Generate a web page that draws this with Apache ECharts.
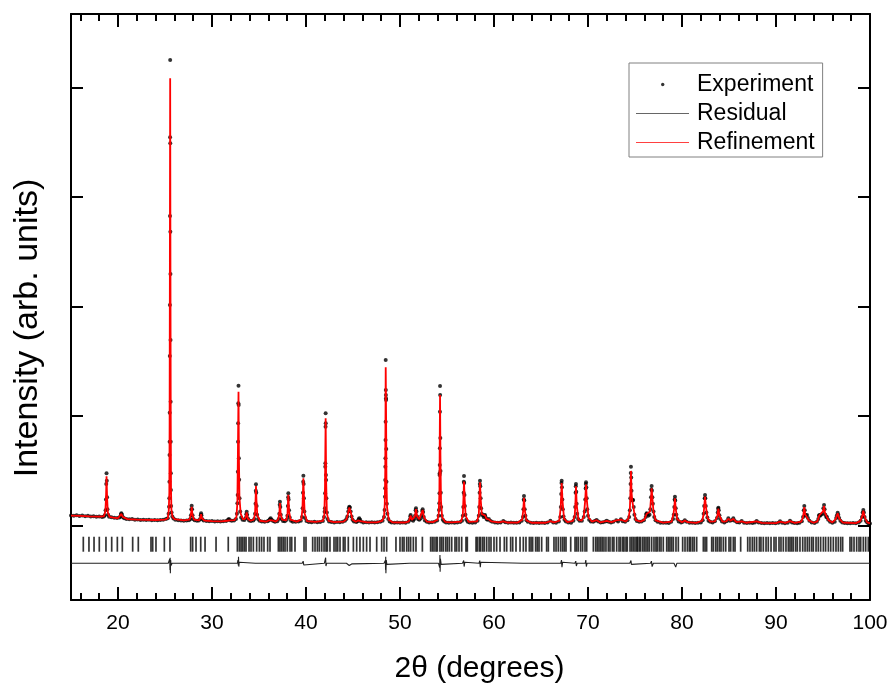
<!DOCTYPE html>
<html>
<head>
<meta charset="utf-8">
<script src="https://cdn.jsdelivr.net/npm/echarts@6/dist/echarts.min.js"></script>
<style>
html,body{margin:0;padding:0;background:#fff;}
#chart{width:891px;height:689px;}
</style>
</head>
<body>
<div id="chart"></div>
<script>
// ---------- DATA ----------
const xTickLabels = [20, 30, 40, 50, 60, 70, 80, 90, 100];
const xMinorTicks = [16, 18, 22, 24, 26, 28, 32, 34, 36, 38, 42, 44, 46, 48, 52, 54, 56, 58, 62, 64, 66, 68, 72, 74, 76, 78, 82, 84, 86, 88, 92, 94, 96, 98];
const yTicks = [0, 1000, 2000, 3000, 4000];

// Experiment: [2theta, intensity]
const experimentPoints = [
[15.0,94],[15.3,90],[15.6,96],[15.9,88],[16.2,92],[16.5,86],[16.8,90],[17.1,84],[17.4,87],[17.7,82],[18.0,85],[18.3,80],
[18.5,84],[18.6,96],[18.68,140],[18.72,239],[18.75,380],[18.78,478],[18.81,410],[18.84,260],[18.88,150],[18.95,100],[19.05,82],
[19.3,76],[19.6,72],[19.9,70],[20.15,74],
[20.25,85],[20.32,105],[20.36,113],[20.42,100],[20.5,80],[20.65,68],
[20.9,62],[21.2,58],[21.5,60],[21.8,55],[22.1,57],[22.4,53],[22.7,55],[23.0,51],[23.3,54],[23.6,50],[23.9,53],[24.2,50],[24.5,52],[24.8,55],[25.1,60],
[25.3,68],[25.38,110],[25.43,173],[25.46,250],[25.47,401],[25.48,644],[25.49,766],[25.5,1031],[25.51,1549],[25.52,2014],[25.53,2826],[25.54,3544],[25.55,4249],[25.56,3489],[25.57,2682],[25.58,2297],[25.59,1695],[25.6,1131],[25.61,766],[25.62,478],[25.63,325],[25.65,180],[25.7,120],[25.78,85],[25.9,65],
[26.1,55],[26.4,50],[26.7,48],[27.0,46],[27.3,48],[27.55,50],
[27.7,62],[27.76,95],[27.8,150],[27.84,183],[27.88,150],[27.93,95],[28.0,62],[28.15,50],
[28.4,44],[28.6,48],
[28.74,60],[28.8,95],[28.84,113],[28.88,95],[28.95,62],[29.1,48],
[29.4,42],[29.7,40],[30.0,42],[30.3,38],[30.6,41],[30.9,38],[31.2,40],[31.5,42],
[31.7,55],[31.8,60],[31.9,50],[32.1,45],[32.35,48],[32.55,60],
[32.65,110],[32.7,204],[32.73,280],[32.75,493],[32.77,766],[32.78,934],[32.8,1117],[32.82,1277],[32.84,1101],[32.86,615],[32.89,420],[32.93,250],[33.0,130],[33.1,75],[33.25,55],
[33.45,52],
[33.58,70],[33.64,105],[33.69,128],[33.74,100],[33.82,65],[33.95,48],
[34.15,42],[34.4,48],
[34.5,60],[34.58,110],[34.63,200],[34.66,320],[34.68,378],[34.71,300],[34.75,180],[34.8,100],[34.9,60],[35.05,45],
[35.3,38],[35.6,36],[35.9,40],[36.05,48],
[36.15,58],[36.24,67],[36.35,55],[36.5,42],
[36.7,36],[36.95,40],
[37.1,60],[37.16,110],[37.2,190],[37.23,219],[37.27,170],[37.32,100],[37.4,60],[37.55,42],
[37.75,40],[37.95,55],
[38.02,90],[38.07,180],[38.1,260],[38.12,295],[38.15,240],[38.2,140],[38.27,75],[38.4,45],
[38.6,36],[38.9,35],[39.2,38],[39.45,45],
[39.58,80],[39.64,160],[39.68,300],[39.7,400],[39.72,456],[39.75,380],[39.78,250],[39.83,130],[39.9,70],[40.05,42],
[40.3,34],[40.6,32],[40.9,35],[41.2,32],[41.5,34],[41.8,42],
[41.92,80],[41.98,128],[42.01,159],[42.03,296],[42.05,538],[42.06,569],[42.08,903],[42.09,1025],[42.1,934],[42.12,462],[42.14,417],[42.17,250],[42.22,120],[42.3,60],[42.45,38],
[42.7,33],[43.0,30],[43.3,33],[43.6,31],[43.9,35],[44.15,45],
[44.3,60],[44.4,85],[44.5,130],[44.56,160],[44.61,173],[44.67,165],[44.75,130],[44.85,85],[44.95,55],[45.1,38],
[45.35,33],[45.5,40],
[45.6,58],[45.67,67],[45.75,55],[45.85,38],
[46.1,30],[46.4,32],[46.7,29],[47.0,31],[47.3,30],[47.6,32],[47.9,35],[48.15,45],
[48.3,80],[48.36,143],[48.4,265],[48.42,341],[48.43,417],[48.44,538],[48.45,615],[48.46,782],[48.47,949],[48.48,1512],[48.49,1238],[48.5,1193],[48.51,1162],[48.52,1147],[48.54,700],[48.56,400],[48.6,200],[48.66,110],[48.75,60],[48.9,38],
[49.1,30],[49.4,28],[49.7,30],[50.0,27],[50.3,30],[50.6,28],[50.9,35],
[51.03,55],[51.09,85],[51.13,98],[51.18,80],[51.25,55],
[51.4,45],[51.52,60],
[51.6,90],[51.66,140],[51.7,159],[51.75,130],[51.82,85],[51.92,60],[52.05,55],
[52.2,65],
[52.3,95],[52.36,135],[52.41,150],[52.46,125],[52.53,80],[52.65,48],
[52.85,35],[53.1,30],[53.4,32],[53.7,35],[53.95,48],
[54.1,90],[54.15,143],[54.18,204],[54.2,296],[54.21,463],[54.22,478],[54.23,554],[54.24,706],[54.25,1040],[54.26,1275],[54.27,1193],[54.29,800],[54.31,500],[54.34,300],[54.38,170],[54.45,90],[54.55,55],[54.7,38],
[54.9,30],[55.2,28],[55.5,30],[55.8,27],[56.1,30],[56.4,33],[56.6,45],
[56.68,90],[56.73,170],[56.77,300],[56.79,402],[56.81,453],[56.83,390],[56.86,280],[56.9,180],[56.96,100],[57.05,55],[57.2,35],
[57.4,30],[57.7,28],[58.0,30],[58.25,45],
[58.38,90],[58.43,170],[58.47,300],[58.49,380],[58.51,411],[58.54,360],[58.58,250],[58.63,160],[58.7,110],
[58.8,95],[58.9,80],[58.98,92],[59.04,98],[59.1,80],[59.2,60],
[59.3,55],[59.45,60],[59.6,45],[59.8,35],[60.1,30],[60.4,28],[60.7,30],[60.99,43],[61.2,32],[61.5,27],[61.8,29],[62.1,26],[62.4,28],[62.7,30],[62.95,45],
[63.08,80],[63.13,150],[63.17,240],[63.19,271],[63.22,230],[63.27,150],[63.34,90],[63.45,50],[63.6,35],
[63.9,27],[64.2,25],[64.5,28],[64.8,25],[65.1,27],[65.4,25],[65.7,30],[66.0,45],[66.3,30],[66.6,28],[66.9,38],
[67.05,80],[67.11,170],[67.15,290],[67.18,390],[67.2,411],[67.23,350],[67.27,240],[67.32,150],[67.4,85],[67.5,55],[67.65,38],
[67.9,30],[68.2,28],[68.45,45],
[68.58,80],[68.64,170],[68.68,300],[68.7,360],[68.72,380],[68.75,310],[68.79,200],[68.85,110],[68.95,60],[69.1,45],
[69.35,45],[69.55,80],
[69.65,130],[69.71,240],[69.75,340],[69.77,380],[69.79,396],[69.82,350],[69.86,250],[69.92,150],[70.0,90],[70.12,55],[70.3,38],
[70.55,35],[70.75,45],[70.92,52],[71.1,38],[71.35,30],[71.6,32],[71.85,38],[72.0,45],[72.2,35],[72.45,30],[72.7,35],[73.0,50],[73.2,38],[73.5,58],[73.7,40],[73.95,35],[74.2,50],
[74.38,80],[74.45,140],[74.5,250],[74.53,380],[74.55,480],[74.57,538],[74.6,440],[74.63,320],[74.68,240],
[74.74,230],[74.8,234],[74.86,170],[74.94,100],[75.05,60],[75.2,42],
[75.45,35],[75.7,38],[75.95,50],
[76.14,80],[76.2,105],[76.24,113],[76.3,105],[76.4,90],
[76.55,100],[76.63,150],[76.7,260],[76.74,330],[76.77,362],[76.8,320],[76.85,260],[76.9,200],[76.97,130],[77.05,80],[77.18,50],
[77.4,35],[77.7,28],[78.0,26],[78.3,28],[78.6,25],[78.85,35],[79.05,60],
[79.12,100],[79.18,170],[79.22,240],[79.25,265],[79.28,230],[79.33,160],[79.4,100],[79.5,60],[79.65,38],
[79.9,30],[80.1,35],[80.3,50],[80.5,35],[80.8,26],[81.1,28],[81.4,24],[81.7,26],[82.0,30],[82.2,50],
[82.3,110],[82.36,180],[82.41,250],[82.45,280],[82.48,250],[82.53,180],[82.6,120],[82.7,75],[82.82,45],
[83.0,35],[83.25,30],[83.5,40],
[83.72,70],[83.8,120],[83.85,155],[83.87,164],[83.91,140],[83.98,95],[84.08,60],[84.25,38],
[84.5,30],[84.75,40],[84.93,67],[85.1,45],[85.3,50],[85.46,67],[85.6,45],[85.85,32],[86.1,30],[86.35,43],[86.6,28],[86.9,25],[87.2,26],[87.5,24],[87.75,30],[87.94,43],[88.15,30],[88.45,24],[88.75,23],[89.05,25],[89.35,22],[89.65,24],[89.95,22],[90.25,28],[90.43,40],[90.65,26],[90.95,23],[91.25,28],[91.49,45],[91.7,30],[91.95,25],[92.25,22],[92.5,26],[92.75,40],
[92.88,80],[92.95,140],[93.01,180],[93.06,140],[93.12,100],
[93.2,90],[93.3,98],[93.4,70],[93.55,45],[93.8,30],[94.1,25],[94.35,35],
[94.5,60],[94.57,90],[94.61,98],[94.68,90],[94.78,100],
[94.95,110],[95.04,160],[95.11,189],[95.17,150],[95.25,100],[95.35,80],[95.42,80],[95.55,55],[95.75,35],
[96.0,28],[96.25,35],[96.4,70],
[96.48,95],[96.56,119],[96.63,100],[96.72,70],[96.85,45],
[97.05,30],[97.3,25],[97.6,23],[97.9,22],[98.2,24],[98.5,22],[98.8,30],[99.0,45],
[99.15,80],[99.22,120],[99.29,143],[99.35,120],[99.43,80],[99.55,45],[99.7,30],[99.85,22],[100,20]
];

// Refinement (calculated profile): [2theta, intensity]
const refinementPoints = [
[15,92],[16,89],[17,85],[18,82],[18.5,86],[18.65,130],[18.72,240],[18.78,452],[18.84,255],[18.92,120],[19.1,80],[19.5,73],[20.0,68],[20.2,75],[20.36,108],[20.5,80],[20.7,66],[21,60],[22,55],[23,53],[24,52],[25,56],
[25.3,66],[25.4,140],[25.46,300],[25.49,900],[25.52,2400],[25.55,4082],[25.58,2300],[25.61,1000],[25.64,330],[25.68,150],[25.8,80],[26,60],[27,49],
[27.6,55],[27.76,100],[27.84,172],[27.92,100],[28.1,55],[28.6,48],[28.76,70],[28.84,106],[28.93,68],[29.2,46],[30,41],[31,40],[31.6,45],[31.78,58],[31.95,48],[32.4,50],
[32.6,80],[32.7,210],[32.76,700],[32.82,1222],[32.86,650],[32.92,260],[33.05,110],[33.3,58],[33.55,65],[33.69,122],[33.82,64],[34.1,45],
[34.45,55],[34.58,115],[34.64,250],[34.68,362],[34.73,230],[34.82,95],[35.1,45],[35.8,38],[36.1,50],[36.24,64],[36.4,48],[36.8,38],
[37.05,55],[37.17,120],[37.23,207],[37.3,115],[37.45,55],[37.9,48],[38.03,110],[38.12,282],[38.2,130],[38.35,55],[39,37],
[39.5,55],[39.62,150],[39.68,320],[39.72,432],[39.77,290],[39.86,110],[40.1,42],[41,34],[41.8,44],
[41.95,100],[42.02,350],[42.09,980],[42.14,420],[42.22,115],[42.4,45],[43,33],[44,38],
[44.3,58],[44.45,105],[44.61,166],[44.77,120],[44.95,55],[45.3,36],[45.55,48],[45.67,63],[45.8,42],[46.5,31],[47.5,31],[48.1,45],
[48.3,80],[48.38,200],[48.43,500],[48.48,1445],[48.52,1000],[48.56,420],[48.62,170],[48.8,55],[49.2,31],[50.5,29],
[50.95,40],[51.13,93],[51.27,52],[51.45,50],[51.58,85],[51.7,152],[51.82,85],[52.05,58],[52.25,75],[52.41,143],[52.55,78],[52.85,37],[53.5,33],
[54.0,55],[54.12,110],[54.19,300],[54.26,1193],[54.3,650],[54.36,230],[54.48,80],[54.8,35],[55.5,30],
[56.5,38],[56.68,95],[56.75,250],[56.81,402],[56.88,240],[56.98,90],[57.3,34],
[58.2,40],[58.38,95],[58.46,280],[58.51,395],[58.58,245],[58.7,105],[58.85,88],[59.04,95],[59.2,62],[59.45,58],[59.7,40],[60.5,30],[61.0,40],[61.4,29],[62.5,28],
[63.0,55],[63.12,150],[63.19,255],[63.27,145],[63.45,48],[64,27],[65.5,27],[66,42],[66.4,30],
[66.95,45],[67.1,170],[67.2,390],[67.28,235],[67.45,65],[67.8,32],[68.4,45],[68.58,85],[68.65,180],[68.72,360],[68.8,190],[68.98,55],[69.3,45],
[69.55,80],[69.7,230],[69.79,375],[69.87,240],[70.05,75],[70.4,38],[70.92,50],[71.3,31],[72.0,43],[72.5,32],[73.0,48],[73.5,55],[74.0,38],
[74.3,65],[74.45,140],[74.52,330],[74.57,500],[74.63,310],[74.7,230],[74.8,228],[74.9,130],[75.1,50],[75.6,37],[76.0,55],[76.24,108],[76.45,90],
[76.6,130],[76.7,250],[76.77,340],[76.85,250],[76.97,125],[77.2,48],[78,28],[78.9,38],[79.1,110],[79.18,165],[79.25,250],[79.33,155],[79.5,58],
[80.0,32],[80.3,48],[80.6,32],[81.5,26],[82.15,45],[82.3,105],[82.45,265],[82.54,175],[82.72,70],[83.0,37],[83.5,40],[83.75,85],[83.87,155],[83.98,92],[84.3,38],
[84.7,40],[84.93,63],[85.2,46],[85.46,63],[85.8,33],[86.35,40],[86.8,27],[87.94,40],[88.5,25],[90.0,23],[90.43,37],[91.0,25],[91.49,42],[92.0,26],
[92.7,38],[92.88,78],[93.01,170],[93.1,105],[93.3,94],[93.5,48],[94.0,27],[94.4,40],[94.61,94],[94.72,92],[94.8,98],[95.0,130],[95.11,180],[95.2,120],[95.4,80],[95.6,50],
[96.0,30],[96.35,60],[96.56,113],[96.75,62],[97.1,29],[98.5,23],[98.95,42],[99.15,80],[99.29,136],[99.45,75],[99.7,30],[100,21]
];

// Residual (observed - calculated): [2theta, difference]
const residualPoints = [
[15,0],[18.65,0],[18.72,-8],[18.78,12],[18.84,-15],[18.9,0],[20.3,0],[20.36,-5],[20.45,0],
[25.35,0],[25.45,-10],[25.5,40],[25.53,-60],[25.55,50],[25.57,-90],[25.6,30],[25.65,-20],[25.75,0],
[27.75,0],[27.82,-15],[27.9,0],[31.7,0],[31.8,4],[31.9,0],
[32.7,0],[32.76,30],[32.8,-20],[32.82,60],[32.85,-30],[32.9,10],[33.0,0],
[34.6,0],[34.66,-15],[34.7,12],[34.78,0],[37.1,0],[37.2,-8],[37.3,0],[38.0,0],[38.1,10],[38.15,-10],[38.25,0],
[39.6,0],[39.7,20],[39.76,-15],[39.85,0],[41.95,0],[42.04,-15],[42.09,51],[42.12,-25],[42.2,0],
[44.3,0],[44.6,-20],[44.9,-5],[45.0,0],
[48.3,0],[48.44,25],[48.47,-60],[48.48,60],[48.5,-91],[48.54,30],[48.6,-10],[48.7,0],
[51.0,0],[51.1,-12],[51.3,0],[51.6,0],[51.72,-8],[51.85,0],
[54.1,0],[54.22,-40],[54.25,75],[54.27,-77],[54.3,40],[54.38,-10],[54.45,0],
[56.65,0],[56.78,25],[56.82,-30],[56.9,10],[57.0,0],[58.4,0],[58.49,25],[58.54,-35],[58.6,10],[58.7,0],
[63.1,0],[63.19,15],[63.27,-10],[63.35,0],[67.1,0],[67.18,30],[67.23,-35],[67.3,10],[67.4,0],
[68.6,0],[68.7,20],[68.76,-25],[68.85,0],[69.7,0],[69.77,30],[69.82,-30],[69.9,0],
[74.45,0],[74.57,25],[74.62,-10],[74.7,0],[76.65,0],[76.75,20],[76.82,-30],[76.95,0],
[79.15,0],[79.25,-10],[79.33,-35],[79.45,0],[82.35,0],[82.45,15],[82.52,-10],[82.6,0],[83.8,0],[83.87,8],[83.95,0],
[93.0,0],[93.05,-12],[93.12,0],[95.05,0],[95.12,10],[95.2,-12],[95.3,0],[99.2,0],[99.3,-8],[99.4,0],[100,0]
];

// Bragg reflection positions (2theta)
const braggPositions = [
16.31,16.91,17.45,18.01,18.72,19.33,19.93,20.46,21.56,22.16,23.51,23.69,24.04,24.93,25.53,27.73,27.94,28.30,28.80,29.26,30.43,31.73,
32.70,32.91,33.09,33.26,33.44,33.62,33.94,34.15,34.40,34.75,35.04,35.28,35.53,35.92,36.17,37.06,37.23,37.41,37.59,37.77,38.01,38.30,38.48,38.83,39.79,40.00,40.71,40.96,41.21,41.42,41.67,41.92,42.13,42.27,42.55,42.98,43.19,43.37,43.62,43.97,44.15,44.50,45.04,45.39,45.74,46.10,46.45,46.81,47.52,48.05,48.30,48.58,
49.57,50.00,50.25,50.43,50.71,50.92,51.13,51.42,51.70,52.38,53.26,53.44,53.62,53.83,53.97,54.25,54.43,54.61,54.86,55.04,55.25,55.50,55.85,56.03,56.28,56.56,57.02,57.16,58.09,58.23,58.44,58.58,58.80,58.97,59.22,59.47,59.68,60.00,60.28,60.64,61.10,61.35,61.77,61.99,62.34,62.77,63.12,63.40,63.76,63.94,64.11,64.43,64.61,64.79,65.07,65.60,65.78,
66.38,66.60,66.84,67.09,67.30,67.48,67.66,68.16,68.62,68.79,68.97,69.22,69.43,69.68,69.86,70.57,70.82,70.99,71.17,71.35,71.52,71.70,71.91,72.16,72.34,72.59,72.76,73.05,73.30,73.47,73.69,73.83,74.04,74.18,74.47,74.65,74.82,75.00,75.18,75.28,75.46,75.60,75.82,75.99,76.17,76.35,76.52,76.77,77.02,77.23,77.38,77.59,77.77,78.01,78.37,78.55,78.72,78.90,79.08,79.36,79.61,80.07,80.32,80.57,80.78,80.92,81.13,81.31,81.56,82.27,82.45,82.62,
83.16,83.33,83.58,83.76,83.97,84.15,84.40,84.65,85.00,85.18,85.46,85.64,86.24,86.99,87.23,87.48,87.70,87.94,88.23,88.40,88.65,88.94,89.18,89.47,89.79,90.00,90.32,90.53,90.78,91.06,91.31,91.49,91.67,91.84,92.09,92.27,92.55,92.84,93.09,93.33,93.55,93.79,93.97,94.26,94.50,94.75,95.04,95.28,95.57,95.82,96.10,96.38,96.63,96.88,97.09,97.87,98.05,98.30,98.58,98.83,99.01,99.29,99.54,99.82
];

// ---------- LAYOUT / STYLE ----------
const X_MIN = 15, X_MAX = 100;
const Y_MIN = -678, Y_MAX = 4669;
const RESIDUAL_BASE = -343;   // vertical offset of the difference curve
const BRAGG_ROW = -169;       // vertical centre of the reflection markers
const FONT = '"Liberation Sans", Arial, sans-serif';

const chart = echarts.init(document.getElementById('chart'), null, {renderer: 'canvas'});

function xAxisDef(position, ticks, len, showLine, labels, extra) {
  return Object.assign({
    type: 'value', min: X_MIN, max: X_MAX, position: position,
    axisLine: {show: showLine, onZero: false, lineStyle: {color: '#000', width: 2}},
    axisTick: {show: true, inside: true, length: len, customValues: ticks, lineStyle: {color: '#000', width: 2}},
    axisLabel: labels ? {show: true, customValues: ticks, color: '#000', fontSize: 21, fontFamily: FONT, margin: 13} : {show: false},
    splitLine: {show: false}
  }, extra || {});
}
function yAxisDef(position, extra) {
  return Object.assign({
    type: 'value', min: Y_MIN, max: Y_MAX, position: position,
    axisLine: {show: true, onZero: false, lineStyle: {color: '#000', width: 2}},
    axisTick: {show: true, inside: true, length: 12, customValues: yTicks, lineStyle: {color: '#000', width: 2}},
    axisLabel: {show: false},
    splitLine: {show: false}
  }, extra || {});
}

const option = {
  animation: false,
  backgroundColor: '#ffffff',
  grid: {left: 71, right: 21, top: 14, bottom: 89, containLabel: false},
  xAxis: [
    xAxisDef('bottom', xTickLabels, 13, true, true, {
      name: '2θ (degrees)', nameLocation: 'middle', nameGap: 54,
      nameTextStyle: {color: '#000', fontSize: 30, fontFamily: FONT, padding: [0, 0, 0, 18]}
    }),
    xAxisDef('bottom', xMinorTicks, 7, false, false),
    xAxisDef('top', xTickLabels, 13, true, false),
    xAxisDef('top', xMinorTicks, 7, false, false)
  ],
  yAxis: [
    yAxisDef('left', {
      name: 'Intensity (arb. units)', nameLocation: 'middle', nameGap: 26, nameRotate: 90,
      nameTextStyle: {color: '#000', fontSize: 34, fontFamily: FONT, padding: [0, 42, 0, 0]}
    }),
    yAxisDef('right')
  ],
  legend: {
    orient: 'vertical', left: 629, top: 63,
    padding: [10, 8, 3, 7], itemGap: 6, itemWidth: 53, itemHeight: 14,
    borderColor: '#808080', borderWidth: 1, backgroundColor: '#fff',
    textStyle: {color: '#000', fontSize: 23, fontFamily: FONT, lineHeight: 22, padding: [0, 0, 0, 3]},
    selectedMode: false,
    data: [
      {name: 'Experiment', icon: 'path://M0,0M53,14M25,7a1.7,1.7,0,1,0,3.4,0a1.7,1.7,0,1,0,-3.4,0', itemStyle: {color: '#000', borderWidth: 0}},
      {name: 'Residual', icon: 'path://M0,0M53,14M0,6.5h53v1h-53z', itemStyle: {color: '#666', borderWidth: 0}},
      {name: 'Refinement', icon: 'path://M0,0M53,14M0,6.5h53v1h-53z', itemStyle: {color: '#ff4040', borderWidth: 0}}
    ]
  },
  series: [
    {
      name: 'Bragg', type: 'scatter', xAxisIndex: 0, yAxisIndex: 0, silent: true,
      symbol: 'rect', symbolSize: [1.7, 15],
      itemStyle: {color: '#000'},
      data: braggPositions.map(p => [p, BRAGG_ROW]), z: 2
    },
    {
      name: 'Experiment', type: 'scatter', xAxisIndex: 0, yAxisIndex: 0,
      symbol: 'circle', symbolSize: 4,
      itemStyle: {color: '#000'},
      data: experimentPoints, z: 3
    },
    {
      name: 'Residual', type: 'line', xAxisIndex: 0, yAxisIndex: 0,
      symbol: 'none', lineStyle: {color: '#222', width: 1.1},
      itemStyle: {color: '#222'},
      data: residualPoints.map(([x, d]) => [x, d + RESIDUAL_BASE]), z: 3
    },
    {
      name: 'Refinement', type: 'line', xAxisIndex: 0, yAxisIndex: 0,
      symbol: 'none', lineStyle: {color: '#ff0000', width: 1.8},
      itemStyle: {color: '#ff0000'},
      data: refinementPoints, z: 4
    }
  ]
};
chart.setOption(option);
</script>
</body>
</html>
